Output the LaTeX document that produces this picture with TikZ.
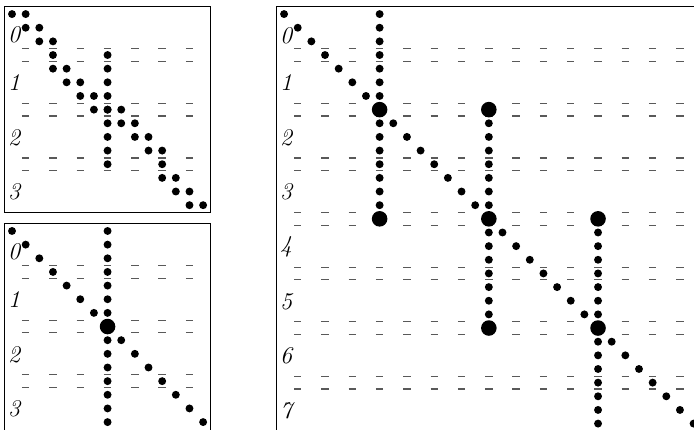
\documentclass[tikz,border=0pt]{standalone}
\usepackage{fontspec}
\usepackage{tikz}
\tikzset{
  mx diagram/.style={x=0.4cm, y=-0.4cm},
  mx frame/.style={draw=black, line width=0.9pt},
  mx dot/.style={fill=black},
  mx sep/.style={draw=black!65, line width=1pt},
  mx label/.style={font=\fontsize{20}{23}\selectfont\itshape,
    anchor=west, inner sep=0pt}
}
% small and large entries of the pattern, at (column,row)
\newcommand{\mxdot}[2]{\fill[mx dot] (#1,#2) circle[radius=0.29];}
\newcommand{\mxbig}[2]{\fill[mx dot] (#1,#2) circle[radius=0.57];}
% double dashes between row blocks
\newcommand{\mxseps}[2]{%
  \foreach \r in {#1} \foreach \c in {#2} {
    \draw[mx sep] (\c-0.27,\r-0.46) -- (\c+0.27,\r-0.46);
    \draw[mx sep] (\c-0.27,\r+0.46) -- (\c+0.27,\r+0.46);
  }}

\begin{document}
\begin{tikzpicture}[mx diagram]
\useasboundingbox (0,0) rectangle (50.84,31.43);
\clip (0,0) rectangle (50.84,31.43);
% top left: bidiagonal with one column
\begin{scope}[shift={(0.88,1.03)}]
\draw[mx frame] (-0.55,-0.55) rectangle (14.55,14.55);
\mxseps{3,7,11}{1,3,...,13}
\foreach \i in {0,...,14} {\mxdot{\i}{\i}}
\foreach \c/\r in {1/0,2/1,3/2,3/4,4/5,5/6,6/7,8/7,9/8,10/9,11/10,11/12,12/13,13/14} {\mxdot{\c}{\r}}
\foreach \r in {3,...,11} {\mxdot{7}{\r}}
\node[mx label] (a0) at (-0.3,1.55) {0};
\foreach \i in {1,2,3} {\node[mx label] (a\i) at (-0.3,4*\i+1.05) {\i};}
\end{scope}
% bottom left: diagonal with one column
\begin{scope}[shift={(0.88,16.92)}]
\draw[mx frame] (-0.55,-0.55) rectangle (14.55,16);
\mxseps{3,7,11}{1,3,...,13}
\foreach \i in {0,...,14} {\mxdot{\i}{\i}}
\foreach \r in {0,...,14} {\mxdot{7}{\r}}
\mxbig{7}{7}
\node[mx label] (b0) at (-0.3,1.55) {0};
\foreach \i in {1,2,3} {\node[mx label] (b\i) at (-0.3,4*\i+1.05) {\i};}
\end{scope}
% right: diagonal with three columns
\begin{scope}[shift={(20.81,1.03)}]
\draw[mx frame] (-0.55,-0.55) rectangle (32,32);
\mxseps{3,7,...,27}{1,3,...,29}
\foreach \i in {0,...,30} {\mxdot{\i}{\i}}
\foreach \r in {0,...,15} {\mxdot{7}{\r}}
\foreach \r in {7,...,23} {\mxdot{15}{\r}}
\foreach \r in {15,...,31} {\mxdot{23}{\r}}
\mxbig{7}{7}
\mxbig{7}{15}
\mxbig{15}{7}
\mxbig{15}{15}
\mxbig{15}{23}
\mxbig{23}{15}
\mxbig{23}{23}
\node[mx label] (c0) at (-0.3,1.6) {0};
\foreach \i in {1,...,7} {\node[mx label] (c\i) at (-0.3,4*\i+1.05) {\i};}
\end{scope}
\end{tikzpicture}
\end{document}
